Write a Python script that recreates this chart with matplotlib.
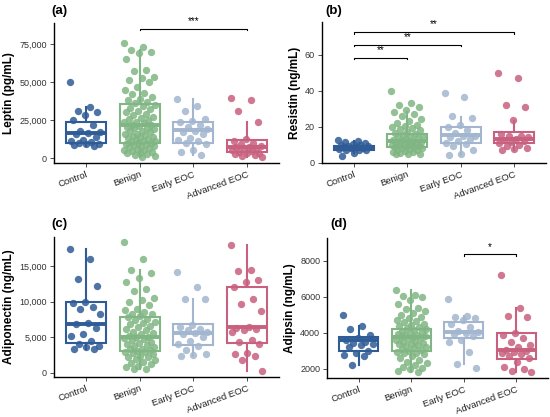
import matplotlib
matplotlib.use('Agg')
import matplotlib.pyplot as plt
import numpy as np

plt.rcParams['font.family'] = ['Liberation Sans', 'DejaVu Sans']

groups = ["Control", "Benign", "Early EOC", "Advanced EOC"]
colors = ["#2F5C97", "#80B683", "#A3B6CF", "#C8607F"]

# ---- Leptin (pg/mL) ----
leptin_control = [50000, 33500, 31000, 30000, 28500, 25000, 22000, 18000, 17000, 16500,
                  15500, 14000, 12000, 11000, 10500, 10000, 9500, 9000, 8500, 8000]
leptin_benign = [75500, 73000, 71000, 70000, 69000, 65000, 58000, 57500, 53000, 52500,
                 51000, 50000, 47000, 45000, 43000, 42000, 40000, 39000, 38000, 37000,
                 36000, 35000, 34000, 33000, 32000, 31000, 30000, 29000, 28000, 27000,
                 26000, 25500, 25000, 24000, 23500, 23000, 22000, 21500, 21000, 20500,
                 20000, 19500, 19000, 18000, 17500, 17000, 16000, 15500, 15000, 14500,
                 14000, 13500, 13000, 12500, 12000, 11500, 11000, 10500, 10000, 9800,
                 9500, 9000, 8500, 8000, 7500, 7000, 6500, 6000, 5500, 5000,
                 4500, 4000, 3500, 3000, 2500, 2000, 1500, 1000]
leptin_early = [38500, 34000, 31000, 25500, 24500, 23500, 22000, 20500, 19000, 18000,
                17000, 15500, 13000, 12000, 11000, 10000, 9500, 5000, 4000, 2000]
leptin_advanced = [39500, 38000, 31000, 24000, 12500, 11500, 10000, 9000, 8000, 7500,
                   7000, 6500, 6000, 5000, 4500, 4000, 3500, 3000, 2500, 2000, 1500, 1000]
leptin_q1 = [10100, 9600, 9600, 3700]
leptin_med = [16200, 21700, 18400, 7500]
leptin_q3 = [23500, 35300, 23900, 11800]
leptin_lo = [8000, 1000, 2000, 1000]
leptin_hi = [33500, 71000, 38500, 24000]

# ---- Resistin (ng/mL) ----
resistin_control = [12.7, 12.0, 11.5, 11.0, 10.5, 10.0, 9.5, 9.2, 9.0, 8.7,
                    8.4, 8.0, 7.8, 7.5, 7.2, 7.0, 6.8, 5.5, 3.4]
resistin_benign = [40, 33, 32, 31, 29, 28, 27, 26, 24, 23, 22, 21, 20.5, 20, 19,
                   18.5, 18, 17, 16.5, 16, 15.5, 15, 14.5, 14, 13.5, 13, 12.5, 12, 12,
                   11.5, 11, 11, 10.5, 10, 10, 9.5, 9.5, 9, 9, 8.5, 8.5, 8, 8, 7.5,
                   7, 7, 6.5, 6, 6, 5.5, 5, 5, 4.5]
resistin_early = [38.5, 36.5, 26, 25, 21, 20, 18, 16.5, 15, 14.5, 14, 13, 12, 11,
                  10.5, 9, 7, 5, 4]
resistin_advanced = [50, 47, 32, 31, 23.5, 16, 15, 14.5, 14, 13, 12.5, 12, 11.5, 11,
                     10, 9, 8, 7.5, 7]
resistin_q1 = [7.0, 8.7, 10.7, 10.7]
resistin_med = [8.3, 12.0, 15.1, 13.3]
resistin_q3 = [9.4, 15.7, 19.8, 17.0]
resistin_lo = [5.5, 4.5, 4.0, 7.0]
resistin_hi = [12.0, 28.0, 25.5, 23.0]

# ---- Adiponectin (ng/mL) ----
adipo_control = [17300, 16000, 13100, 12200, 9900, 9800, 9300, 9000, 8200, 7000,
                 6800, 6300, 5400, 5200, 4500, 4000, 3800, 3600, 3400, 3300]
adipo_benign = [18300, 16000, 14400, 14000, 13300, 12800, 11800, 11500, 10500, 10200,
                10000, 9500, 9000, 8800, 8500, 8300, 8200, 8000, 7800, 7600,
                7400, 7200, 7000, 6800, 6600, 6400, 6200, 6000, 5800, 5600,
                5400, 5200, 5100, 5000, 4900, 4800, 4600, 4400, 4200, 4000,
                3900, 3800, 3600, 3400, 3300, 3200, 3100, 3000, 2900, 2800,
                2600, 2400, 2300, 2200, 2000, 1800, 1600, 1400, 1200, 1000,
                800, 600, 500]
adipo_early = [14100, 12000, 10400, 10300, 6700, 6400, 6100, 6000, 5800, 5600,
               5400, 5000, 4500, 4000, 3800, 3200, 2600, 2500, 2400]
adipo_advanced = [17900, 14400, 14300, 13000, 12700, 12000, 10300, 9600, 8700, 6500,
                  6300, 6200, 6000, 5800, 4600, 4300, 4100, 2800, 2600, 2400, 1800, 300]
adipo_q1 = [4250, 3100, 3900, 4200]
adipo_med = [6900, 5050, 5600, 6450]
adipo_q3 = [9950, 7900, 6800, 12050]
adipo_lo = [3300, 500, 2400, 300]
adipo_hi = [17300, 14400, 10400, 17900]

# ---- Adipsin (ng/mL) ----
adipsin_control = [5000, 4350, 4200, 3900, 3700, 3600, 3500, 3450, 3400, 3300,
                   3200, 3000, 2900, 2750, 2700, 2200]
adipsin_benign = [6400, 6100, 6050, 6000, 5800, 5600, 5400, 5300, 5200, 5100,
                  5000, 4900, 4800, 4700, 4650, 4600, 4500, 4450, 4400, 4300,
                  4250, 4200, 4150, 4100, 4050, 4000, 3950, 3900, 3850, 3800,
                  3770, 3750, 3700, 3650, 3600, 3550, 3500, 3450, 3400, 3350,
                  3300, 3250, 3200, 3150, 3100, 3050, 3000, 2950, 2900, 2850,
                  2800, 2700, 2600, 2500, 2400, 2300, 2200, 2100, 2050, 2000,
                  1900, 1850]
adipsin_early = [5900, 4950, 4900, 4800, 4700, 4500, 4300, 4100, 4050, 4000,
                 3950, 3800, 3600, 3500, 2950, 2250, 2050]
adipsin_advanced = [7200, 5400, 4950, 4900, 4000, 3900, 3700, 3500, 3300, 3200,
                    3050, 3000, 2950, 2900, 2800, 2700, 2600, 2400, 2100, 2000,
                    1900, 1850]
adipsin_q1 = [2980, 3000, 3720, 2570]
adipsin_med = [3580, 3770, 4050, 3030]
adipsin_q3 = [3770, 4230, 4600, 4000]
adipsin_lo = [2200, 1850, 2250, 1850]
adipsin_hi = [4350, 6400, 4950, 5400]

panels = [
    dict(tag="(a)", ylabel="Leptin (pg/mL)",
         data=[leptin_control, leptin_benign, leptin_early, leptin_advanced],
         stats=(leptin_q1, leptin_med, leptin_q3, leptin_lo, leptin_hi),
         ylim=(-3300, 88800), yticks=[0, 25000, 50000, 75000], fmt="{:,.0f}",
         rect=[0.098, 0.609, 0.409, 0.336], tagpos=(0.094, 0.973),
         brackets=[(2, 4, 85000, "***")]),
    dict(tag="(b)", ylabel="Resistin (ng/mL)",
         data=[resistin_control, resistin_benign, resistin_early, resistin_advanced],
         stats=(resistin_q1, resistin_med, resistin_q3, resistin_lo, resistin_hi),
         ylim=(-0.3, 78), yticks=[0, 20, 40, 60], fmt="{:.0f}",
         rect=[0.585, 0.609, 0.408, 0.338], tagpos=(0.591, 0.973),
         brackets=[(1, 2, 58.2, "**"), (1, 3, 65.5, "**"), (1, 4, 72.4, "**")]),
    dict(tag="(c)", ylabel="Adiponectin (ng/mL)",
         data=[adipo_control, adipo_benign, adipo_early, adipo_advanced],
         stats=(adipo_q1, adipo_med, adipo_q3, adipo_lo, adipo_hi),
         ylim=(-560, 19060), yticks=[0, 5000, 10000, 15000], fmt="{:,.0f}",
         rect=[0.098, 0.096, 0.409, 0.336], tagpos=(0.094, 0.463),
         brackets=[]),
    dict(tag="(d)", ylabel="Adipsin (ng/mL)",
         data=[adipsin_control, adipsin_benign, adipsin_early, adipsin_advanced],
         stats=(adipsin_q1, adipsin_med, adipsin_q3, adipsin_lo, adipsin_hi),
         ylim=(1500, 9260), yticks=[2000, 4000, 6000, 8000], fmt="{:.0f}",
         rect=[0.595, 0.094, 0.401, 0.335], tagpos=(0.600, 0.463),
         brackets=[(3, 4, 8350, "*")]),
]

fig = plt.figure(figsize=(5.5, 4.17), dpi=100)

for p in panels:
    ax = fig.add_axes(p["rect"])
    q1, med, q3, lo, hi = p["stats"]
    for i, vals in enumerate(p["data"]):
        pos = i + 1
        c = colors[i]
        st = [dict(q1=q1[i], med=med[i], q3=q3[i], whislo=lo[i], whishi=hi[i], fliers=[])]
        ax.bxp(st, positions=[pos], widths=0.75, showfliers=False, showcaps=False,
               patch_artist=True,
               boxprops=dict(facecolor='white', edgecolor=c, linewidth=1.5),
               whiskerprops=dict(color=c, linewidth=1.5),
               medianprops=dict(color=c, linewidth=2.8), zorder=2)
        # deterministic jitter
        n = len(vals)
        jit = ((np.arange(n) * 0.618034) % 1.0 - 0.5) * 0.6
        ax.scatter(pos + jit, vals, s=28, color=c, alpha=0.85, linewidths=0, zorder=3)

    ax.set_xlim(0.4, 4.6)
    ax.set_ylim(*p["ylim"])
    ax.set_yticks(p["yticks"])
    ax.set_yticklabels([p["fmt"].format(v) for v in p["yticks"]], fontsize=6.5, color='#333333')
    ax.set_xticks([1, 2, 3, 4])
    ax.set_xticklabels(groups, rotation=20, ha='right', rotation_mode='anchor',
                       fontsize=6.8, color='#222222')
    ax.tick_params(length=3, width=0.6, color='#333333', pad=2)
    ax.set_ylabel(p["ylabel"], fontsize=8.5, fontweight='bold', labelpad=3)
    for s in ['top', 'right']:
        ax.spines[s].set_visible(False)
    for s in ['left', 'bottom']:
        ax.spines[s].set_linewidth(1.0)
    ax.set_facecolor('white')

    yr = p["ylim"][1] - p["ylim"][0]
    for a, b, y, lab in p["brackets"]:
        d = yr * 0.012
        ax.plot([a, a, b, b], [y - d, y, y, y - d], color='black', lw=0.8,
                clip_on=False, zorder=4)
        ax.text((a + b) / 2, y + yr * 0.02, lab, ha='center', va='bottom',
                fontsize=7, clip_on=False)

    fig.text(p["tagpos"][0], p["tagpos"][1], p["tag"], fontsize=9.5, fontweight='bold',
             ha='left', va='center')

fig.savefig("out.png", dpi=100, facecolor='white')
